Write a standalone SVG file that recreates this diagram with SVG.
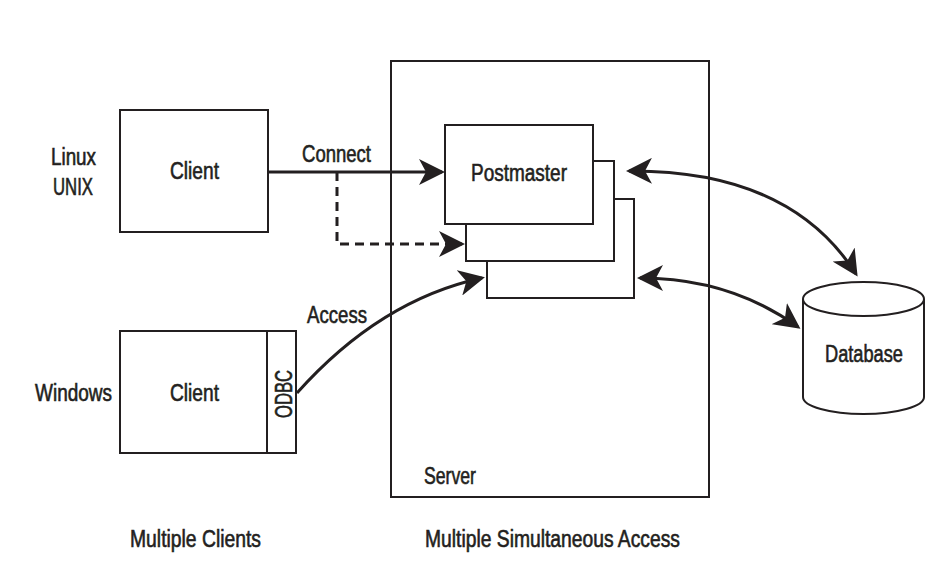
<svg xmlns="http://www.w3.org/2000/svg" width="940" height="562" viewBox="0 0 940 562">
<style>
.box{fill:#fff;stroke:#231f20;stroke-width:2}
.t{font-family:"Liberation Sans",Arial,sans-serif;font-size:23px;fill:#231f20;stroke:#231f20;stroke-width:0.6}
.c{fill:none;stroke:#231f20;stroke-width:3}
</style>
<defs>
<marker id="ah" viewBox="0 0 26 26" refX="23" refY="13" markerWidth="26" markerHeight="26" markerUnits="userSpaceOnUse" orient="auto-start-reverse">
<path d="M0,0 L26,13 L0,26 L7,13 Z" fill="#231f20"/>
</marker>
</defs>
<rect width="940" height="562" fill="#fff"/>
<g id="server">
<rect class="box" x="391" y="61" width="318" height="436"/>
<text class="t" x="424" y="484" textLength="52" lengthAdjust="spacingAndGlyphs">Server</text>
</g>
<g id="client1">
<rect class="box" x="120" y="110" width="148" height="122"/>
<text class="t" x="170" y="179" textLength="49" lengthAdjust="spacingAndGlyphs">Client</text>
</g>
<g id="label-linux">
<text class="t" x="51" y="165" textLength="45" lengthAdjust="spacingAndGlyphs">Linux</text>
<text class="t" x="53" y="195" textLength="40" lengthAdjust="spacingAndGlyphs">UNIX</text>
</g>
<g id="client2">
<rect class="box" x="120" y="331" width="176" height="122"/>
<line x1="267" y1="331" x2="267" y2="453" stroke="#231f20" stroke-width="2"/>
<text class="t" x="170" y="401" textLength="49" lengthAdjust="spacingAndGlyphs">Client</text>
<text class="t" transform="translate(292,418) rotate(-90)" x="0" y="0" textLength="48" lengthAdjust="spacingAndGlyphs">ODBC</text>
</g>
<g id="label-windows">
<text class="t" x="35" y="401" textLength="77" lengthAdjust="spacingAndGlyphs">Windows</text>
</g>
<g id="postmaster3">
<rect class="box" x="487" y="199" width="147" height="99"/>
</g>
<g id="postmaster2">
<rect class="box" x="466" y="161" width="148" height="100"/>
</g>
<g id="postmaster">
<rect class="box" x="445" y="125" width="148" height="99"/>
<text class="t" x="471" y="181" textLength="96" lengthAdjust="spacingAndGlyphs">Postmaster</text>
</g>
<g id="database">
<path class="box" d="M803,299 V397 A60.5,17 0 0 0 924,397 V299"/>
<ellipse class="box" cx="863.5" cy="299" rx="60.5" ry="17"/>
<text class="t" x="825" y="362" textLength="78" lengthAdjust="spacingAndGlyphs">Database</text>
</g>
<g id="connectors">
<path class="c" d="M268,172 H442" marker-end="url(#ah)"/>
<path class="c" d="M337,172 V244 H462" stroke-dasharray="9,6" marker-end="url(#ah)"/>
<path class="c" d="M297,393 Q380,300 482,278" marker-end="url(#ah)"/>
<path class="c" d="M629,171 Q790,170 856,274" marker-start="url(#ah)" marker-end="url(#ah)"/>
<path class="c" d="M640,278 Q730,278 798,327" marker-start="url(#ah)" marker-end="url(#ah)"/>
<text class="t" x="302" y="162" textLength="69" lengthAdjust="spacingAndGlyphs">Connect</text>
<text class="t" x="307" y="323" textLength="60" lengthAdjust="spacingAndGlyphs">Access</text>
</g>
<g id="captions">
<text class="t" x="130" y="547" textLength="131" lengthAdjust="spacingAndGlyphs">Multiple Clients</text>
<text class="t" x="425" y="547" textLength="255" lengthAdjust="spacingAndGlyphs">Multiple Simultaneous Access</text>
</g>
</svg>
